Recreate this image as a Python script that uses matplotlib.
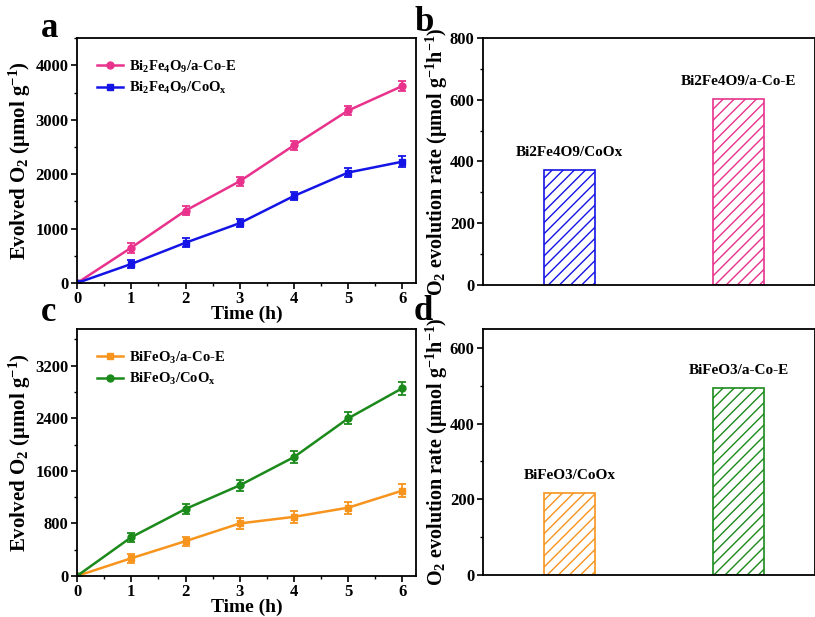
import numpy as np
import matplotlib
matplotlib.use("Agg")
import matplotlib.pyplot as plt
from matplotlib.ticker import MultipleLocator

plt.rcParams.update({
    "font.family": ["Liberation Serif", "DejaVu Serif"],
    "font.weight": "bold",
    "axes.labelweight": "bold",
    "mathtext.fontset": "custom",
    "mathtext.rm": "Liberation Serif:bold",
    "mathtext.it": "Liberation Serif:bold",
    "mathtext.bf": "Liberation Serif:bold",
    "mathtext.default": "rm",
    "hatch.linewidth": 1.0,
    "axes.linewidth": 1.3,
})

# evolution time course
hours = [0, 1, 2, 3, 4, 5, 6]
bfo49_aco = [0, 650, 1330, 1870, 2530, 3170, 3620]
bfo49_aco_err = [0, 90, 80, 80, 80, 90, 100]
bfo49_coox = [0, 350, 740, 1100, 1600, 2030, 2230]
bfo49_coox_err = [0, 70, 80, 80, 80, 90, 100]

bfo3_aco = [0, 270, 530, 800, 900, 1040, 1300]
bfo3_aco_err = [0, 70, 70, 90, 90, 90, 100]
bfo3_coox = [0, 590, 1020, 1380, 1810, 2400, 2860]
bfo3_coox_err = [0, 70, 80, 80, 90, 90, 100]

# average rates
rate_labels_b = ["Bi2Fe4O9/CoOx", "Bi2Fe4O9/a-Co-E"]
rates_b = [372, 603]
rate_labels_d = ["BiFeO3/CoOx", "BiFeO3/a-Co-E"]
rates_d = [217, 493]

PINK = "#e8328c"
BLUE = "#1414e6"
ORANGE = "#f7941d"
GREEN = "#1b8a1b"

fig = plt.figure(figsize=(8.15, 6.17), dpi=100)
ax_a = fig.add_axes([0.0945, 0.5413, 0.416, 0.397])
ax_b = fig.add_axes([0.5926, 0.5381, 0.4074, 0.4003])
ax_c = fig.add_axes([0.0945, 0.0665, 0.416, 0.4003])
ax_d = fig.add_axes([0.5926, 0.068, 0.4074, 0.3988])


def style_ticks(ax):
    ax.tick_params(which="both", direction="out", labelsize=12, pad=2)
    ax.tick_params(which="major", length=4, width=1.2)
    ax.tick_params(which="minor", length=2.5, width=1.0)


def time_panel(ax, series, ymax, major, minor):
    for y, err, color, marker, label in series:
        ax.errorbar(hours, y, yerr=err, fmt="none", ecolor=color,
                    elinewidth=1.3, capsize=3, capthick=1.3)
        ax.plot(hours, y, color=color, marker=marker, ms=5, lw=1.8, label=label)
    ax.set_xlim(0, 6.25)
    ax.set_ylim(0, ymax)
    ax.xaxis.set_major_locator(MultipleLocator(1))
    ax.xaxis.set_minor_locator(MultipleLocator(0.5))
    ax.yaxis.set_major_locator(MultipleLocator(major))
    ax.yaxis.set_minor_locator(MultipleLocator(minor))
    style_ticks(ax)
    ax.set_xlabel("Time (h)", fontsize=14, labelpad=-1)
    ax.set_ylabel(r"Evolved O$_2$ ($\mathregular{\mu}$mol g$^{-1}$)", fontsize=15, labelpad=2)
    ax.legend(loc="upper left", bbox_to_anchor=(0.02, 0.97), frameon=False,
              fontsize=10.5, handlelength=1.8, handletextpad=0.4, labelspacing=0.35)


def rate_panel(ax, labels, rates, colors, ymax, major, minor, text_off):
    pos = np.arange(1, len(rates) + 1)
    ax.bar(pos, rates, width=0.3, color="white", edgecolor=colors,
           hatch="///", linewidth=1.2)
    for x, v, lab in zip(pos, rates, labels):
        ax.text(x, v + text_off, lab, ha="center", va="bottom", fontsize=11)
    ax.set_xlim(0.49, 2.45)
    ax.set_ylim(0, ymax)
    ax.set_xticks([])
    ax.yaxis.set_major_locator(MultipleLocator(major))
    ax.yaxis.set_minor_locator(MultipleLocator(minor))
    style_ticks(ax)
    ax.set_ylabel(r"O$_2$ evolution rate ($\mathregular{\mu}$mol g$^{-1}$h$^{-1}$)",
                  fontsize=14.5, labelpad=0)


time_panel(ax_a, [
    (bfo49_aco, bfo49_aco_err, PINK, "o", r"Bi$_2$Fe$_4$O$_9$/a-Co-E"),
    (bfo49_coox, bfo49_coox_err, BLUE, "s", r"Bi$_2$Fe$_4$O$_9$/CoO$_x$"),
], 4500, 1000, 500)

time_panel(ax_c, [
    (bfo3_aco, bfo3_aco_err, ORANGE, "s", r"BiFeO$_3$/a-Co-E"),
    (bfo3_coox, bfo3_coox_err, GREEN, "o", r"BiFeO$_3$/CoO$_x$"),
], 3760, 800, 400)

rate_panel(ax_b, rate_labels_b, rates_b, [BLUE, PINK], 800, 200, 100, 35)
rate_panel(ax_d, rate_labels_d, rates_d, [ORANGE, GREEN], 650, 200, 100, 30)

for label, x, y in [("a", 0.05, 0.94), ("b", 0.508, 0.95),
                    ("c", 0.05, 0.48), ("d", 0.508, 0.481)]:
    fig.text(x, y, label, fontsize=25, fontweight="bold", va="baseline")

fig.savefig("out.png", dpi=100)
